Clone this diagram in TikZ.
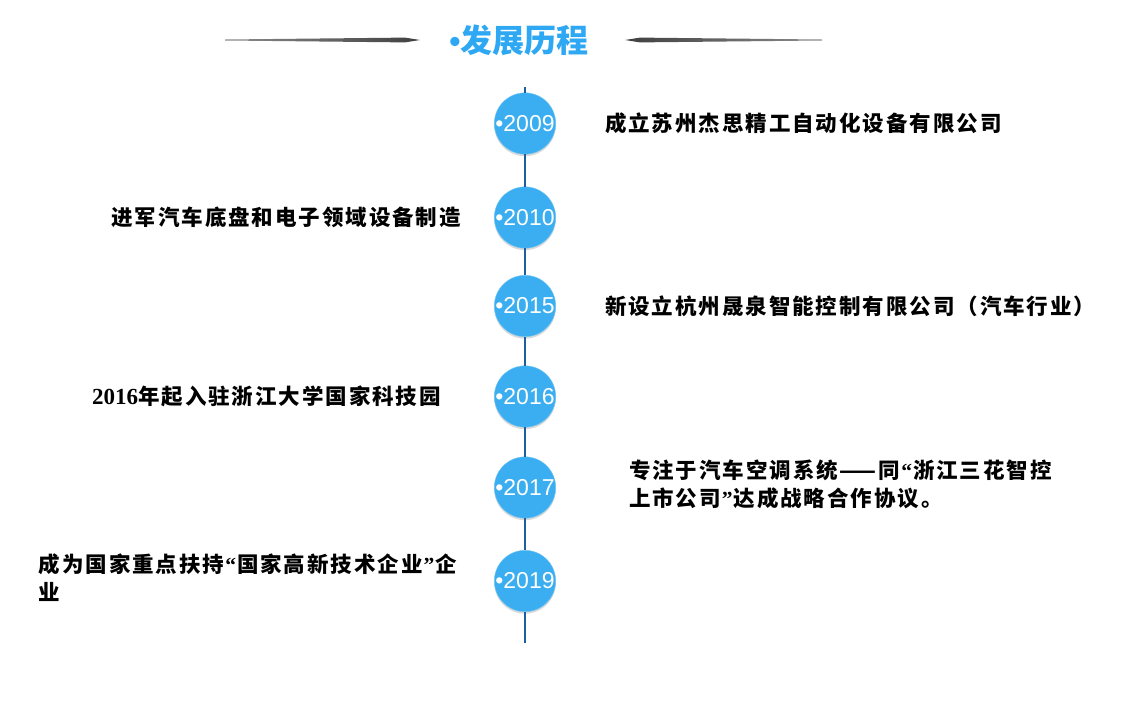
\documentclass[tikz,border=0pt]{standalone}
\usepackage{fontspec}
\setmainfont{Liberation Sans}
\newfontfamily\cjk{Noto Sans CJK SC}[LetterSpace=9]
\newfontfamily\cjkt{Noto Sans CJK SC}
\newfontfamily\quotefont{Liberation Serif}
\newcommand{\Lq}{{\quotefont\bfseries\kern1pt“\kern1pt}}
\newcommand{\Rq}{{\quotefont\bfseries\kern1pt”\kern1pt}}
\usetikzlibrary{positioning}
\usetikzlibrary{shadows}
\definecolor{yearblue}{RGB}{58,174,240}
\definecolor{titleblue}{RGB}{46,168,243}
\definecolor{axisblue}{RGB}{31,94,158}
\tikzset{
    yearnode/.style = {circle, minimum size=61pt, inner sep=0pt, fill=yearblue, draw=yearblue!70!white, thin, text=white, font=\fontsize{23}{23}\selectfont, drop shadow={opacity=0.3, shadow xshift=0pt, shadow yshift=-2pt}},
    eventr/.style = {inner sep=0pt, align=left, font=\cjk\bfseries\fontsize{21.5}{28}\selectfont},
    eventl/.style = {inner sep=0pt, align=left, font=\cjk\bfseries\fontsize{21.5}{28}\selectfont},
    titlenode/.style = {inner sep=0pt, text=titleblue, font=\cjkt\bfseries\fontsize{32}{32}\selectfont},
    axis/.style = {axisblue, line width=1.3pt},
}

\begin{document}
\begin{tikzpicture}[x=1pt,y=-1pt]
\useasboundingbox (0,0) rectangle (1121,702);

\node[titlenode] at (519, 40) (title) {{\rmfamily •}发展历程};
\shade[left color=black!45, right color=black!75] (225,39.5) -- (405,37.6) -- (420,40) -- (405,42.4) -- (225,40.5) -- cycle;
\shade[left color=black!75, right color=black!45] (625,40) -- (640,37.6) -- (822,39.5) -- (822,40.5) -- (640,42.4) -- cycle;

\coordinate (top) at (525, 87);
\coordinate (bottom) at (525, 643);
\node[yearnode] at (525, 123.5) (y2009) {•2009};
\node[yearnode] at (525, 217.5) (y2010) {•2010};
\node[yearnode] at (525, 306.0) (y2015) {•2015};
\node[yearnode] at (525, 396.5) (y2016) {•2016};
\node[yearnode] at (525, 487.5) (y2017) {•2017};
\node[yearnode] at (525, 581.0) (y2019) {•2019};
%
\draw[axis] (top) -- (y2009);
\draw[axis] (y2009) -- (y2010);
\draw[axis] (y2010) -- (y2015);
\draw[axis] (y2015) -- (y2016);
\draw[axis] (y2016) -- (y2017);
\draw[axis] (y2017) -- (y2019);
\draw[axis] (y2019) -- (bottom);
%
\node[eventr, right=49pt of y2009] (e2009) {成立苏州杰思精工自动化设备有限公司};
\node[eventl, left=33pt of y2010] (e2010) {进军汽车底盘和电子领域设备制造};
\node[eventr, right=49pt of y2015] (e2015) {新设立杭州晟泉智能控制有限公司（汽车行业）};
\node[eventl, left=53pt of y2016] (e2016) {{\quotefont\bfseries\fontsize{23}{28}\selectfont 2016}年起入驻浙江大学国家科技园};
\node[eventr, right=73pt of y2017, yshift=3pt] (e2017) {专注于汽车空调系统——同\Lq 浙江三花智控\\上市公司\Rq 达成战略合作协议。};
\node[eventl, left=37pt of y2019, yshift=3pt] (e2019) {成为国家重点扶持\Lq 国家高新技术企业\Rq 企\\业};

\end{tikzpicture}
\end{document}
